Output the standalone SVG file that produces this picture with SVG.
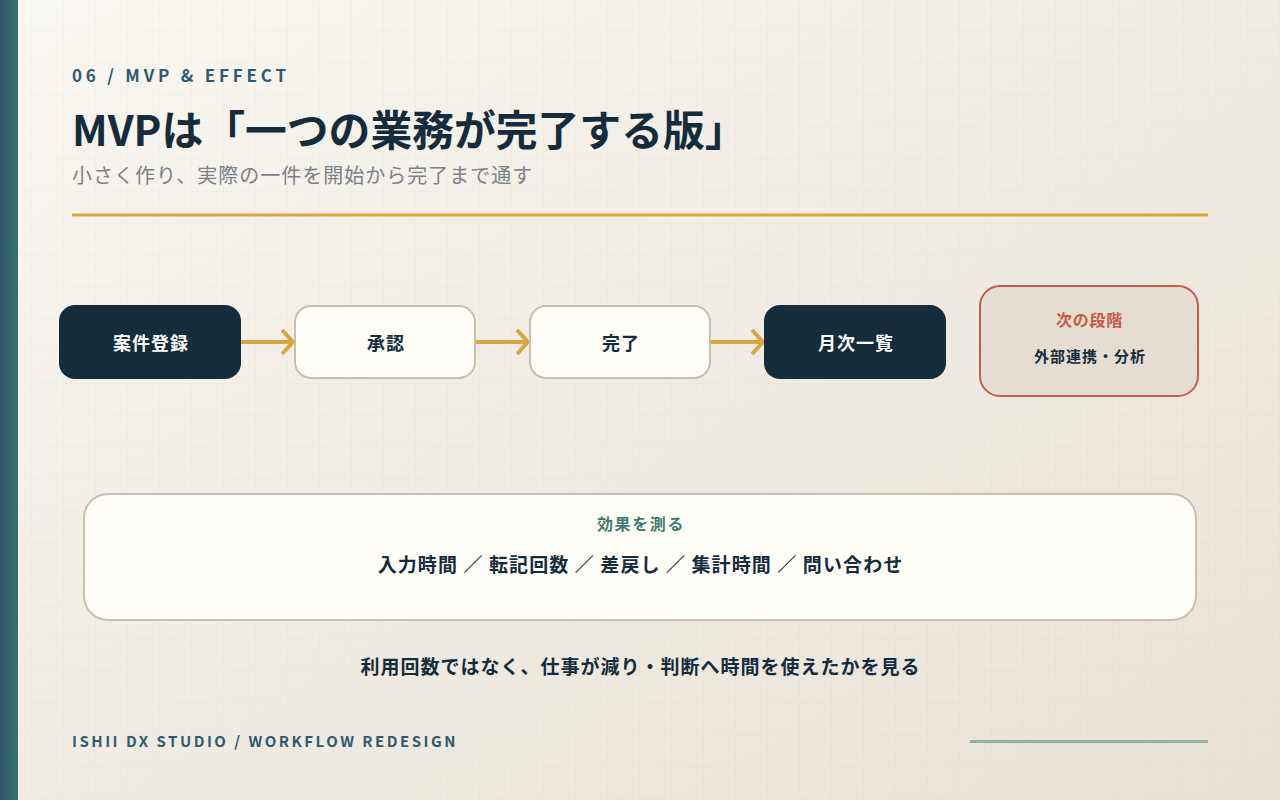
<svg xmlns="http://www.w3.org/2000/svg" width="1280" height="800" viewBox="0 0 1280 800">
  <defs>
    <linearGradient id="bg" x1="0" y1="0" x2="1" y2="1">
      <stop offset="0" stop-color="#f9f7f1"/>
      <stop offset="1" stop-color="#e8e1d6"/>
    </linearGradient>
    <linearGradient id="bar" x1="0" y1="0" x2="1" y2="0">
      <stop offset="0" stop-color="#2d566f"/>
      <stop offset="1" stop-color="#36736b"/>
    </linearGradient>
    <pattern id="grid" width="32" height="32" patternUnits="userSpaceOnUse">
      <path d="M32 0V32M0 32H32" fill="none" stroke="#142c3c" stroke-opacity="0.035" stroke-width="1"/>
    </pattern>
    <marker id="chev" viewBox="0 0 14 26" markerWidth="14" markerHeight="26" refX="12" refY="13" markerUnits="userSpaceOnUse" orient="auto">
      <path d="M1 1L12 13L1 25" fill="none" stroke="#d9a640" stroke-width="4"/>
    </marker>
    <style>
      text { font-family: "Noto Sans CJK JP", "Noto Sans", sans-serif; }
      .dark { fill: #142c3c; stroke: none; }
      .light { fill: #fffdf7; stroke: #c9bfb0; stroke-width: 2; }
      .wlabel { fill: #ffffff; font-size: 18px; font-weight: 700; text-anchor: middle; letter-spacing: 1px; }
      .dlabel { fill: #142c3c; font-size: 18px; font-weight: 700; text-anchor: middle; letter-spacing: 1px; }
      .conn { stroke: #d9a640; stroke-width: 4; fill: none; }
    </style>
  </defs>

  <rect width="1280" height="800" fill="url(#bg)"/>
  <rect width="1280" height="800" fill="url(#grid)"/>
  <rect x="0" y="0" width="18" height="800" fill="url(#bar)"/>

  <g id="header">
    <text x="72" y="82" font-size="17" font-weight="700" letter-spacing="3.8" fill="#2f5a72">06 / MVP &amp; EFFECT</text>
    <text x="72" y="146" font-size="41.8" font-weight="700" fill="#142c3c">MVPは「一つの業務が完了する版」</text>
    <text x="72" y="183" font-size="20" letter-spacing="1" fill="#7b8189">小さく作り、実際の一件を開始から完了まで通す</text>
    <rect x="72" y="213.5" width="1136" height="3" fill="#d9a640"/>
  </g>

  <g id="connectors">
    <line class="conn" x1="241" y1="342" x2="293" y2="342" marker-end="url(#chev)"/>
    <line class="conn" x1="476" y1="342" x2="528" y2="342" marker-end="url(#chev)"/>
    <line class="conn" x1="711" y1="342" x2="763" y2="342" marker-end="url(#chev)"/>
  </g>

  <g id="node-register">
    <rect class="dark" x="59" y="305" width="182" height="74" rx="16"/>
    <text class="wlabel" x="151" y="350">案件登録</text>
  </g>
  <g id="node-approve">
    <rect class="light" x="295" y="306" width="180" height="72" rx="16"/>
    <text class="dlabel" x="386" y="350">承認</text>
  </g>
  <g id="node-complete">
    <rect class="light" x="530" y="306" width="180" height="72" rx="16"/>
    <text class="dlabel" x="621" y="350">完了</text>
  </g>
  <g id="node-monthly">
    <rect class="dark" x="764" y="305" width="182" height="74" rx="16"/>
    <text class="wlabel" x="856" y="350">月次一覧</text>
  </g>
  <g id="node-next">
    <rect x="980" y="286" width="218" height="110" rx="20" fill="#e5ddd2" stroke="#c95b4c" stroke-width="2"/>
    <text x="1089.5" y="326" font-size="16" font-weight="700" letter-spacing="0.8" fill="#c55a4a" text-anchor="middle">次の段階</text>
    <text x="1090" y="362" font-size="15" font-weight="700" letter-spacing="1" fill="#142c3c" text-anchor="middle">外部連携・分析</text>
  </g>

  <g id="node-effect">
    <rect x="84" y="494" width="1112" height="126" rx="24" fill="#fffdf7" stroke="#c9bfb0" stroke-width="2"/>
    <text x="641" y="530" font-size="16" font-weight="700" letter-spacing="1.6" fill="#3f7a70" text-anchor="middle">効果を測る</text>
    <text x="640.5" y="572" font-size="19" font-weight="700" letter-spacing="1.1" fill="#142c3c" text-anchor="middle">入力時間 ／ 転記回数 ／ 差戻し ／ 集計時間 ／ 問い合わせ</text>
  </g>

  <g id="footer">
    <text x="640.5" y="674" font-size="19" font-weight="700" letter-spacing="1" fill="#142c3c" text-anchor="middle">利用回数ではなく、仕事が減り・判断へ時間を使えたかを見る</text>
    <text x="72" y="746.5" font-size="15" font-weight="700" letter-spacing="2.5" fill="#2f5a72">ISHII DX STUDIO / WORKFLOW REDESIGN</text>
    <rect x="970" y="740" width="238" height="3" fill="#8fb0ab"/>
  </g>
</svg>
